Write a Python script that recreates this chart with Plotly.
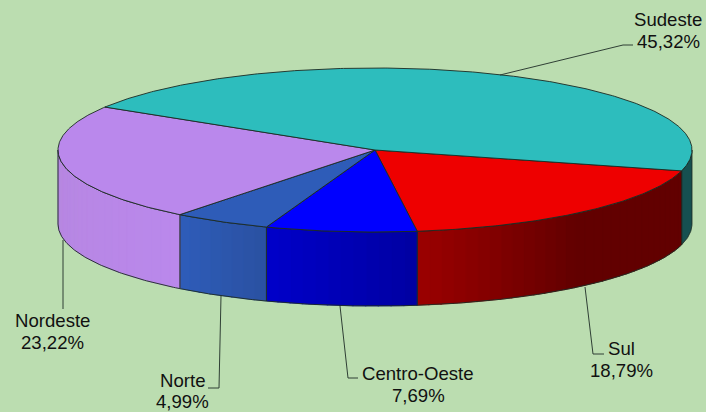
import numpy as np
import plotly.graph_objects as go

regions = ["Sul", "Centro-Oeste", "Norte", "Nordeste", "Sudeste"]
shares = [18.79, 7.69, 4.99, 23.22, 45.32]
top_colors = ["#EE0000", "#0000FF", "#2E5CB8", "#BA88EC", "#2DBDBD"]
side_left = [(153, 0, 0), (0, 0, 200), (46, 92, 184), (182, 134, 224), None]
side_right = [(98, 0, 0), (0, 0, 160), (42, 80, 160), (186, 136, 236), None]

W, H = 706, 412
CX, CY, A, B, D = 375, 150, 317, 82, 74
START = 14.7
BG = "#BBDDB0"
EDGE = "#1c2a22"


def ell(t, dy=0.0):
    r = np.radians(t)
    return CX + A * np.cos(r), CY + B * np.sin(r) + dy


fig = go.Figure()


def poly(xs, ys, fill, line=None, width=0.8):
    fig.add_trace(go.Scatter(
        x=xs, y=ys, mode="lines", fill="toself", fillcolor=fill,
        line=dict(color=line or fill, width=width if line else 0.6),
        hoverinfo="skip", showlegend=False))


def arc(t0, t1, n=None):
    n = n or max(3, int(abs(t1 - t0) * 2))
    return np.linspace(t0, t1, n)


def mix(c0, c1, f):
    f = min(1.0, f)
    return "rgb(%d,%d,%d)" % tuple(round(c0[i] + (c1[i] - c0[i]) * f) for i in range(3))


bounds = [START]
for s in shares:
    bounds.append(bounds[-1] + s * 3.6)

# teal wall on the far right (last slice wraps past 0 degrees)
tt = arc(0, START)
x, y = ell(tt)
x2, y2 = ell(tt[::-1], D)
poly(np.r_[x, x2, x[0]], np.r_[y, y2, y[0]], "#165050", EDGE)

# front walls, as narrow shaded strips
for i in range(4):
    t0, t1 = bounds[i], min(bounds[i + 1], 180)
    steps = max(2, int((t1 - t0) / 2.2))
    edges = np.linspace(t0, t1, steps + 1)
    span = 0.45 if i == 0 else 1.0
    for k in range(steps):
        a, b = edges[k], edges[k + 1] + (0.25 if k < steps - 1 else 0)
        tt = arc(a, b, 4)
        x, y = ell(tt)
        x2, y2 = ell(tt[::-1], D)
        c = mix(side_left[i], side_right[i], ((steps - 1 - k) / steps) / span)
        poly(np.r_[x, x2, x[0]], np.r_[y, y2, y[0]], c)
    # outline of the wall
    tt = arc(t0, t1)
    x, y = ell(tt)
    x2, y2 = ell(tt[::-1], D)
    fig.add_trace(go.Scatter(x=np.r_[x, x2, x[0]], y=np.r_[y, y2, y[0]], mode="lines",
                             line=dict(color=EDGE, width=0.9), hoverinfo="skip", showlegend=False))

# top faces
for i in range(5):
    tt = arc(bounds[i], bounds[i + 1])
    x, y = ell(tt)
    poly(np.r_[CX, x, CX], np.r_[CY, y, CY], top_colors[i], EDGE, 0.9)

# leader lines
leaders = [
    ([500, 623, 633], [75, 45, 45]),
    ([585, 593, 604], [287, 354, 354]),
    ([340, 348, 358], [306, 378, 378]),
    ([221, 219, 208], [296, 388, 388]),
    ([63, 63], [240, 309]),
]
for lx, ly in leaders:
    fig.add_trace(go.Scatter(x=lx, y=ly, mode="lines", line=dict(color="#2f3f35", width=1),
                             hoverinfo="skip", showlegend=False))

label_pos = {"Sudeste": (668, 19.5), "Sul": (621, 348.5), "Centro-Oeste": (418, 373.5),
             "Norte": (182, 380), "Nordeste": (52, 320.5)}
LINE_GAP = 21.5
for name, share in zip(regions, shares):
    lx, ly = label_pos[name]
    for txt, yy in ((name, ly), (f"{share:.2f}%".replace(".", ","), ly + LINE_GAP)):
        fig.add_annotation(x=lx, y=yy, xref="x", yref="y", showarrow=False, text=txt,
                           font=dict(family="Liberation Sans", size=18.6, color="#111111"),
                           xanchor="center", yanchor="middle")

fig.update_xaxes(range=[0, W], visible=False, fixedrange=True)
fig.update_yaxes(range=[H, 0], visible=False, fixedrange=True)
fig.update_layout(width=W, height=H, margin=dict(l=0, r=0, t=0, b=0),
                  paper_bgcolor=BG, plot_bgcolor=BG, showlegend=False)
fig.write_html("out.html", config={"displayModeBar": False},
               post_script="document.body.style.margin='0';document.body.style.background='#BBDDB0';")
